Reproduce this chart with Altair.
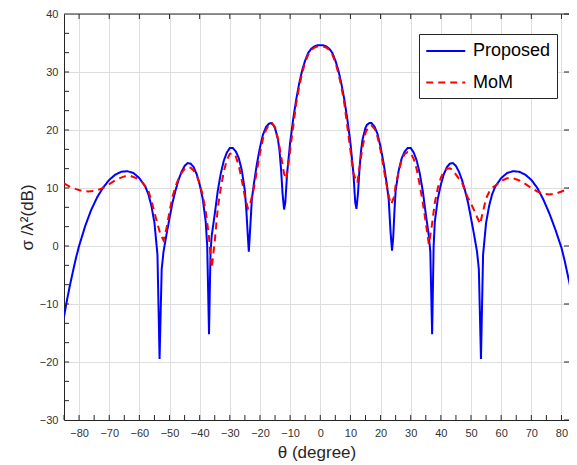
import altair as alt
import pandas as pd

# ---- data ----
proposed_x = [-85, -84, -83, -82, -81, -80, -78, -76, -74, -72, -70, -68, -66, -64, -62, -60, -58, -57, -56, -55,
              -54, -53.3, -52.6, -52, -51, -50, -49, -48, -47, -46, -45, -44, -43, -42, -41, -40, -39, -38, -37.5,
              -36.9, -36.4, -36, -35, -34, -33, -32, -31, -30, -29, -28, -27, -26, -25, -24.5, -24, -23.7, -23.3,
              -22.7, -22, -21, -20, -19, -18, -17, -16.3, -15.5, -15, -14, -13.5, -13, -12.5, -12, -11.6, -11, -10,
              -9, -8, -7, -6, -5, -4, -3, -2, -1, 0,
              1, 2, 3, 4, 5, 6, 7, 8, 9, 10, 11, 11.6, 12, 12.5, 13, 13.5, 14, 15, 15.5, 16.3, 17, 18, 19, 20, 21,
              22, 22.7, 23.3, 23.8, 24.2, 24.6, 25, 26, 27, 28, 29, 30, 31, 32, 33, 34, 35, 36, 36.5, 37.1, 37.6,
              38, 39, 40, 41, 42, 43, 44, 45, 46, 47, 48, 49, 50, 51, 52, 52.6, 53.3, 54, 55, 56, 57, 58, 60, 62,
              64, 66, 68, 70, 72, 74, 76, 78, 80, 81, 82, 83, 84, 85]
proposed_y = [-12.2, -9.3, -6.7, -4.3, -2.0, 0.0, 3.4, 6.2, 8.4, 10.1, 11.4, 12.3, 12.8, 12.9, 12.6, 11.7, 10.2, 8.9, 6.9, 4.0,
              -1.5, -19.5, -4.0, -1.0, 2.0, 4.8, 7.5, 9.6, 11.4, 12.8, 13.8, 14.3, 14.2, 13.6, 12.4, 10.6, 8.2, 4.2, 0.0,
              -15.2, -1.0, 1.8, 5.5, 9.5, 12.5, 14.7, 16.1, 16.9, 16.9, 16.3, 15.1, 13.0, 9.5, 6.0, 1.5, -1.0, 2.5,
              8.0, 10.8, 14.2, 17.0, 19.2, 20.5, 21.1, 21.2, 20.8, 20.3, 18.3, 16.3, 13.2, 9.0, 6.3, 7.5, 12.5, 17.8,
              21.8, 25.2, 28.0, 30.3, 32.0, 33.3, 34.0, 34.4, 34.6, 34.6,
              34.6, 34.4, 34.0, 33.3, 32.0, 30.3, 28.0, 25.2, 21.8, 17.8, 12.5, 7.5, 6.4, 9.0, 13.2, 16.3, 18.3, 20.4, 20.9,
              21.2, 21.2, 20.6, 19.3, 17.1, 14.3, 10.9, 8.0, 2.5, -0.8, 1.5, 6.0, 9.5, 13.0, 15.1, 16.3, 16.9,
              16.9, 16.1, 14.7, 12.5, 9.5, 5.5, 1.8, -1.0, -15.2, 0.0, 4.2, 8.2, 10.6, 12.4, 13.6, 14.2, 14.3, 13.8,
              12.8, 11.4, 9.6, 7.5, 4.8, 2.0, -1.0, -4.0, -19.5, -1.5, 4.0, 6.9, 8.9, 10.2, 11.7, 12.6, 12.9, 12.8,
              12.3, 11.4, 10.0, 8.0, 5.6, 2.8, -0.3, -2.4, -4.8, -7.2, -9.8, -12.0]

mom_x = [-85, -83, -81, -79, -77, -75, -73, -71, -69, -67, -65, -63, -61, -59, -57, -56, -55, -54, -53, -52, -51, -50,
         -49, -48, -47, -46, -45, -44, -43, -42, -41, -40, -39, -38, -37, -36, -35, -34, -33, -32, -31, -30, -29, -28,
         -27, -26, -25, -24, -23, -22, -21, -20, -19, -18, -17, -16, -15, -14, -13, -12, -11.3, -11, -10, -9, -8, -7,
         -6, -5, -4, -3, -2, -1, 0,
         1, 2, 3, 4, 5, 6, 7, 8, 9, 10, 11, 12.3, 13, 14, 15, 16, 17, 18, 19, 20, 21, 22, 23, 23.5, 24.5, 25, 26,
         27, 28, 29, 30, 31, 32, 33, 34, 35, 36, 37, 38, 39, 40, 41, 42, 43, 44, 45, 46, 47, 48, 49, 50, 51, 52, 53,
         54, 55, 56, 57, 58, 60, 62, 64, 66, 68, 70, 72, 74, 76, 78, 80, 82, 84, 85]
mom_y = [10.8, 10.2, 9.8, 9.5, 9.4, 9.5, 9.8, 10.3, 11.0, 11.6, 12.0, 12.1, 11.7, 11.0, 9.5, 7.8, 5.8, 3.8, 2.0, 1.0, 3.0,
         6.0, 8.5, 10.3, 11.6, 12.6, 13.3, 13.6, 13.5, 13.0, 12.2, 10.8, 8.8, 6.0, 2.0, -3.8, 0.8, 6.5, 10.0, 12.8,
         14.8, 15.9, 16.0, 15.4, 13.8, 11.3, 8.5, 6.5, 7.8, 10.0, 13.0, 16.0, 18.5, 20.0, 20.9, 21.2, 20.5, 18.5, 15.5,
         12.5, 11.5, 12.5, 16.5, 20.5, 24.5, 27.5, 29.8, 31.7, 33.0, 33.8, 34.2, 34.4, 34.4,
         34.4, 34.2, 33.8, 33.0, 31.7, 29.8, 27.5, 24.5, 20.5, 16.5, 12.5, 10.9, 13.5, 17.0, 19.5, 20.6, 20.8, 20.2,
         18.8, 16.5, 13.5, 10.5, 8.0, 7.2, 8.5, 10.5, 12.8, 14.8, 15.9, 16.2, 16.0, 15.0, 13.2, 10.5, 7.5, 4.0, 0.3,
         3.5, 7.5, 10.0, 11.8, 12.8, 13.3, 13.4, 13.1, 12.3, 11.6, 11.0, 9.5, 8.3, 7.3, 6.2, 5.0, 3.8, 6.0, 8.2, 9.3,
         10.0, 10.4, 11.2, 11.7, 11.7, 11.3, 10.7, 10.0, 9.4, 9.0, 8.9, 9.0, 9.4, 9.8, 10.2, 10.4]

series_names = ["Proposed", "MoM"]
series_colors = ["#0000ff", "#ff0000"]
series_dash = [[1, 0], [7, 5]]

x_major = [-80, -70, -60, -50, -40, -30, -20, -10, 0, 10, 20, 30, 40, 50, 60, 70, 80]
x_minor = [-85, -80, -75, -70, -65, -60, -55, -50, -45, -40, -35, -30, -25, -20, -15, -10, -5, 0,
           5, 10, 15, 20, 25, 30, 35, 40, 45, 50, 55, 60, 65, 70, 75, 80]
y_major = [-30, -20, -10, 0, 10, 20, 30, 40]
y_minor = [-26.667, -23.333, -20, -16.667, -13.333, -10, -6.667, -3.333, 0, 3.333, 6.667, 10, 13.333, 16.667,
           20, 23.333, 26.667, 30, 33.333, 36.667]

W, H = 505, 406
FONT = "Liberation Sans"

df = pd.concat([
    pd.DataFrame({"theta": proposed_x, "rcs": proposed_y, "series": "Proposed", "order": range(len(proposed_x))}),
    pd.DataFrame({"theta": mom_x, "rcs": mom_y, "series": "MoM", "order": range(len(mom_x))}),
])

xscale = alt.Scale(domain=[-85, 82.5], nice=False, zero=False)
yscale = alt.Scale(domain=[-30, 40], nice=False, zero=False)

x_axis = alt.Axis(values=x_major, grid=True, gridColor="#dedede", ticks=False, domain=True,
                  domainColor="#262626", labelFont=FONT, labelFontSize=11, labelColor="#333333",
                  labelPadding=7, labelOverlap=False, title="θ (degree)", titleFont=FONT, titleFontSize=17,
                  titleFontWeight="normal", titleColor="#262626", titlePadding=6)
y_axis = alt.Axis(values=y_major, grid=True, gridColor="#dedede", ticks=False, domain=True,
                  domainColor="#262626", labelFont=FONT, labelFontSize=11, labelColor="#333333",
                  labelPadding=6, labelOverlap=False, title="σ /λ²(dB)", titleFont=FONT, titleFontSize=17,
                  titleFontWeight="normal", titleColor="#262626", titlePadding=3)

lines = alt.Chart(df).mark_line(strokeWidth=2, clip=True).encode(
    x=alt.X("theta:Q", scale=xscale, axis=x_axis),
    y=alt.Y("rcs:Q", scale=yscale, axis=y_axis),
    color=alt.Color("series:N", scale=alt.Scale(domain=series_names, range=series_colors),
                    sort=series_names,
                    legend=alt.Legend(title=None, orient="none", legendX=355, legendY=20,
                                      symbolType="M-1,0H3", symbolSize=380, symbolStrokeWidth=2,
                                      labelFont=FONT, labelFontSize=18, labelColor="#000000",
                                      strokeColor="#262626", fillColor="#ffffff", padding=6,
                                      rowPadding=11.5, labelOffset=26)),
    strokeDash=alt.StrokeDash("series:N", scale=alt.Scale(domain=series_names, range=series_dash),
                              sort=series_names, legend=alt.Legend(title=None, orient="none")),
    order="order:Q",
)

bt = alt.Chart(pd.DataFrame({"theta": x_minor})).mark_rule(color="#262626", strokeWidth=1).encode(
    x=alt.X("theta:Q", scale=xscale, axis=x_axis), y=alt.value(H), y2=alt.value(H - 5))
tt = alt.Chart(pd.DataFrame({"theta": x_major})).mark_rule(color="#262626", strokeWidth=1).encode(
    x=alt.X("theta:Q", scale=xscale, axis=x_axis), y=alt.value(0), y2=alt.value(5))
lt = alt.Chart(pd.DataFrame({"rcs": y_minor})).mark_rule(color="#262626", strokeWidth=1).encode(
    y=alt.Y("rcs:Q", scale=yscale, axis=y_axis), x=alt.value(0), x2=alt.value(5))
rt = alt.Chart(pd.DataFrame({"rcs": y_major})).mark_rule(color="#262626", strokeWidth=1).encode(
    y=alt.Y("rcs:Q", scale=yscale, axis=y_axis), x=alt.value(W - 5), x2=alt.value(W))
top_border = alt.Chart(pd.DataFrame({"a": [0]})).mark_rule(color="#262626", strokeWidth=1).encode(
    x=alt.value(0), x2=alt.value(W), y=alt.value(0))

chart = alt.layer(lines, bt, tt, lt, rt, top_border).properties(
    width=W, height=H, autosize="none",
    padding={"left": 56, "top": 6, "right": 0, "bottom": 44},
).configure_view(stroke="transparent").configure(background="#ffffff")

chart.save("out.html", embed_options={"renderer": "svg", "actions": False})
